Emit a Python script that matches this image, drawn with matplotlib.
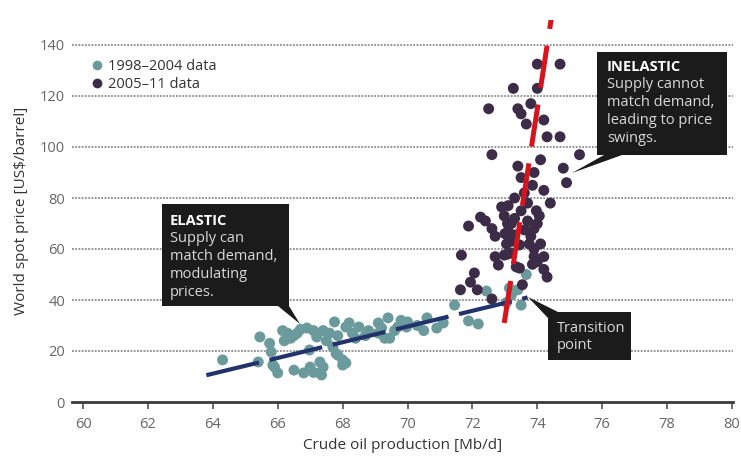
import matplotlib
matplotlib.use("Agg")
import matplotlib.pyplot as plt
from matplotlib.patches import Polygon
from matplotlib.lines import Line2D

plt.rcParams['font.family'] = ['Open Sans', 'DejaVu Sans']

# ---------------- data ----------------
early_x = [64.3, 65.4, 65.45, 65.75, 65.8, 65.85, 65.9, 66.0, 66.15, 66.3, 66.4, 66.6, 66.7,
           66.8, 66.9, 66.98, 67.0, 67.1, 67.2, 67.3, 67.3, 67.35, 67.4, 67.4, 67.7, 67.75,
           67.8, 67.85, 67.85, 68.0, 68.0, 68.1, 68.1, 68.3, 68.5, 68.7, 69.1, 69.1, 69.3,
           69.4, 69.45, 69.6, 69.7, 69.8, 69.97, 70.0, 70.6, 70.9, 71.45, 71.88, 72.18,
           72.43, 73.05, 73.14, 73.2, 73.4, 73.5, 73.66,
           66.5, 66.2, 67.6, 68.2, 68.8, 69.2, 67.5, 68.4, 66.5, 67.1, 71.1, 70.3, 70.5]
early_y = [16.5, 15.7, 25.5, 23.0, 19.6, 14.5, 13.7, 11.4, 28.0, 27.0, 25.0, 27.0, 28.5,
           11.4, 29.0, 20.4, 13.7, 28.0, 25.5, 15.7, 11.4, 10.6, 28.0, 13.7, 21.6, 31.4,
           19.0, 26.0, 18.4, 14.5, 16.5, 29.4, 15.3, 27.0, 29.4, 26.0, 31.0, 27.0, 25.0,
           33.0, 25.0, 28.0, 29.4, 32.0, 29.4, 31.4, 33.0, 29.0, 38.0, 31.8, 30.6,
           43.5, 39.0, 44.7, 42.0, 44.0, 38.0, 50.0,
           26.0, 24.0, 27.0, 31.0, 28.0, 29.0, 24.0, 25.0, 12.5, 11.6, 31.0, 30.0, 28.0]

late_x = [74.0, 74.7, 73.26, 74.0, 72.5, 73.4, 73.5, 73.8, 73.66, 74.2, 74.3, 74.7, 72.6,
          75.3, 73.4, 74.1, 74.8, 74.9, 74.2, 74.4, 73.9, 73.85, 71.88, 72.25, 72.4, 71.66,
          72.06, 71.94, 71.63, 72.15, 72.8, 72.6, 72.7, 72.9, 73.1, 72.98, 73.08, 73.05,
          73.2, 73.08, 73.45, 73.75, 73.97, 74.06, 73.7, 73.9, 74.2, 74.2, 74.3, 73.8,
          73.6, 73.45, 73.3, 73.2, 73.54, 72.6, 72.98, 73.35, 73.85, 74.0, 73.5, 73.6,
          73.3, 74.0, 73.9, 73.1, 72.7, 73.3, 73.7, 73.5, 73.2, 73.0, 74.1, 73.9]
late_y = [132.5, 132.5, 123.0, 123.0, 115.0, 115.0, 113.0, 117.0, 109.0, 110.6, 104.0, 104.0,
          97.0, 97.0, 92.5, 95.0, 91.7, 86.0, 83.0, 78.0, 90.0, 85.0, 69.0, 72.5, 71.0, 57.6,
          50.6, 47.0, 44.0, 44.0, 53.7, 68.0, 65.0, 76.5, 77.0, 73.0, 70.0, 62.0,
          63.0, 58.0, 52.5, 62.0, 75.0, 73.0, 78.0, 57.0, 57.0, 52.0, 49.0, 65.0,
          67.5, 61.6, 65.5, 58.4, 46.0, 40.4, 57.6, 53.0, 54.0, 55.0, 88.0, 82.0,
          80.0, 70.0, 68.0, 67.0, 57.0, 72.0, 71.0, 75.0, 70.0, 66.0, 62.0, 60.0]

elastic_x = [63.8, 73.7]
elastic_y = [10.5, 41.0]
inelastic_x = [72.98, 74.45]
inelastic_y = [31.0, 152.0]

xticks = [60, 62, 64, 66, 68, 70, 72, 74, 76, 78, 80]
yticks = [0, 20, 40, 60, 80, 100, 120, 140]

legend_labels = ["1998\u20132004 data", "2005\u201311 data"]
col_early = '#6b9a9c'
col_late = '#3d2c47'

# ---------------- figure ----------------
W, H = 741, 457
fig = plt.figure(figsize=(W / 100, H / 100), dpi=100)
ax = fig.add_axes([72 / W, 1 - 402 / H, (733 - 72) / W, (402 - 19.5) / H])

ax.set_xlim(59.66, 80.03)
ax.set_ylim(0, 150)

for s in ['top', 'right', 'left']:
    ax.spines[s].set_visible(False)
ax.spines['bottom'].set_color('#3a3a3a')
ax.spines['bottom'].set_linewidth(2)

ax.set_xticks(xticks)
ax.set_yticks(yticks)
ax.tick_params(axis='x', direction='out', length=5, width=1.2, color='#555555',
               labelsize=10.5, labelcolor='#666666', pad=6)
ax.tick_params(axis='y', length=0, labelsize=10.5, labelcolor='#666666', pad=5)

for yv in yticks[1:]:
    ax.axhline(yv, color='#8a8a8a', lw=1.3, ls=(0, (1, 0.8)), zorder=0.5)

ax.scatter(early_x, early_y, s=62, color=col_early, edgecolors='none', zorder=2)
ax.scatter(late_x, late_y, s=62, color=col_late, edgecolors='none', zorder=3)

ax.plot(elastic_x, elastic_y, color='#22336b', lw=3.0, dashes=(13, 2.6),
        solid_capstyle='butt', dash_capstyle='butt', zorder=4)
ax.plot(inelastic_x, inelastic_y, color='#d7141b', lw=3.6, dashes=(8.5, 3.4),
        dash_capstyle='butt', zorder=5, clip_on=True)

ax.set_xlabel("Crude oil production [Mb/d]", fontsize=11, color='#333333', labelpad=4)
ax.set_ylabel("World spot price [US$/barrel]", fontsize=11, color='#333333', labelpad=8)

# legend
handles = [Line2D([], [], marker='o', ls='none', markersize=7, color=col_early, markeredgewidth=0),
           Line2D([], [], marker='o', ls='none', markersize=7, color=col_late, markeredgewidth=0)]
fig.legend(handles, legend_labels, loc='upper left', bbox_to_anchor=(85 / W, 1 - 52 / H),
           frameon=False, borderpad=0, handlelength=0.7, handletextpad=0.35,
           labelspacing=0.2, fontsize=10.5, labelcolor='#333333')


def px(pts):
    return [(x / W, 1 - y / H) for x, y in pts]


def callout(pts, tx, ty, title, body, fs=10.5):
    fig.patches.append(Polygon(px(pts), closed=True, transform=fig.transFigure,
                               facecolor='#1b1b1b', edgecolor='none', zorder=10))
    if title:
        fig.text(tx / W, 1 - ty / H, title, fontsize=fs, fontweight='bold', color='white',
                 va='center', ha='left', zorder=11)
        ty += 17.8
    for i, line in enumerate(body):
        fig.text(tx / W, 1 - (ty + 17.8 * i) / H, line, fontsize=fs, color='#d9d9d9',
                 va='center', ha='left', zorder=11)


callout([(162, 204), (289, 204), (289, 306), (300, 324), (278, 306), (162, 306)],
        170, 221, "ELASTIC", ["Supply can", "match demand,", "modulating", "prices."])
callout([(597, 52), (727, 52), (727, 155), (622, 155), (572, 173), (604, 155), (597, 155)],
        607, 67, "INELASTIC", ["Supply cannot", "match demand,", "leading to price", "swings."])
callout([(558, 312), (631, 312), (631, 360), (548, 360), (548, 318), (528, 297)],
        557, 328, None, ["Transition", "point"])

fig.savefig("out.png", dpi=100)
